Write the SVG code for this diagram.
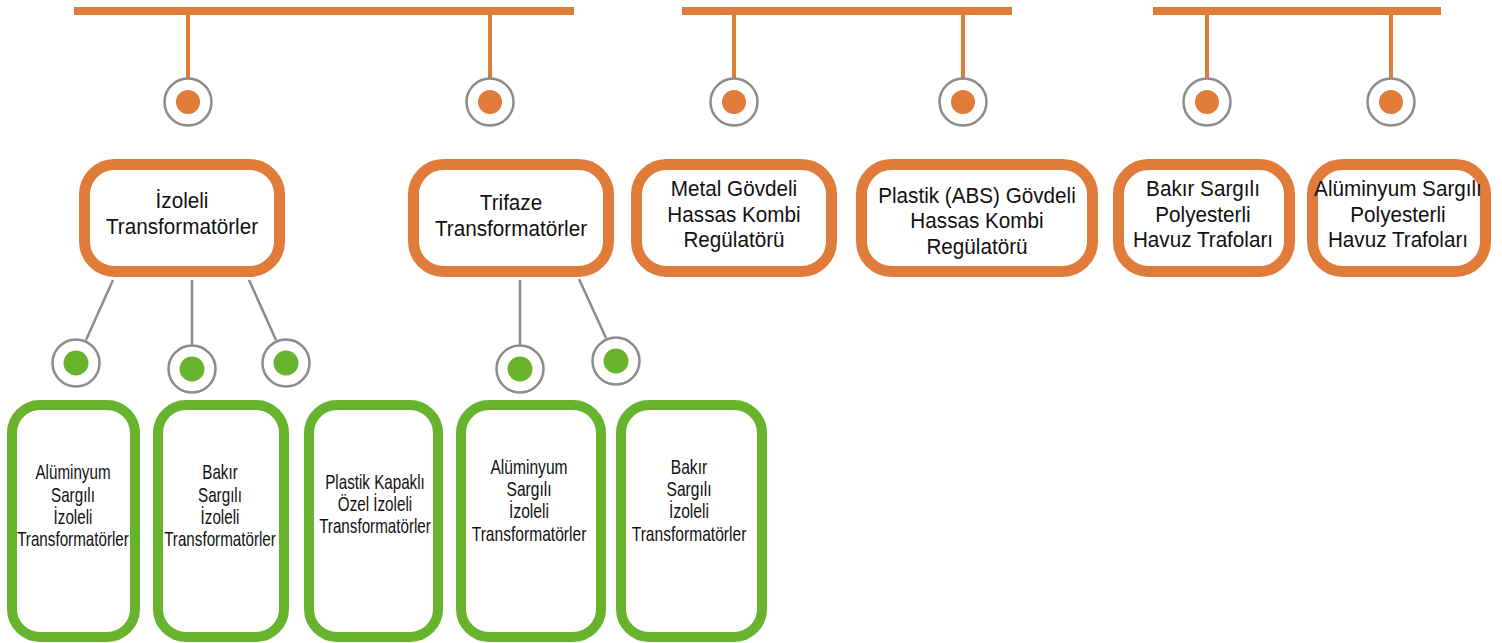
<svg xmlns="http://www.w3.org/2000/svg" width="1502" height="643" viewBox="0 0 1502 643">
<style>
.bar{fill:#E07B39}
.stub{stroke:#E07B39;stroke-width:4;fill:none}
.gline{stroke:#8C8C8C;stroke-width:2.5;fill:none}
.ring{fill:#fff;stroke:#8C8C8C;stroke-width:2.5}
.odot{fill:#E07B39}
.gdot{fill:#67B32E}
.onode{fill:#fff;stroke:#E07B39;stroke-width:11}
.gnode{fill:#fff;stroke:#67B32E;stroke-width:10}
.t1{font-family:"Liberation Sans",Arial,sans-serif;font-size:22px;fill:#111;text-anchor:middle}
.t2{font-family:"Liberation Sans",Arial,sans-serif;font-size:20px;fill:#111;text-anchor:middle}
</style>
<rect width="1502" height="643" fill="#fff"/>
<g id="connectors">
<rect class="bar" x="74" y="7" width="500" height="8"/>
<rect class="bar" x="682" y="7" width="330" height="8"/>
<rect class="bar" x="1153" y="7" width="288" height="8"/>
<line class="stub" x1="188" y1="15" x2="188" y2="79"/>
<line class="stub" x1="490" y1="15" x2="490" y2="79"/>
<line class="stub" x1="734" y1="15" x2="734" y2="79"/>
<line class="stub" x1="963" y1="15" x2="963" y2="79"/>
<line class="stub" x1="1207" y1="15" x2="1207" y2="79"/>
<line class="stub" x1="1391" y1="15" x2="1391" y2="79"/>
<line class="gline" x1="113" y1="280" x2="86" y2="340"/>
<line class="gline" x1="192" y1="280" x2="192" y2="345"/>
<line class="gline" x1="249" y1="280" x2="276" y2="340"/>
<line class="gline" x1="520" y1="280" x2="520" y2="345"/>
<line class="gline" x1="579" y1="279" x2="606" y2="338"/>
</g>
<g id="markers">
<g id="m1"><circle class="ring" cx="188" cy="102" r="23.5"/><circle class="odot" cx="188" cy="102" r="12"/></g>
<g id="m2"><circle class="ring" cx="490" cy="102" r="23.5"/><circle class="odot" cx="490" cy="102" r="12"/></g>
<g id="m3"><circle class="ring" cx="734" cy="102" r="23.5"/><circle class="odot" cx="734" cy="102" r="12"/></g>
<g id="m4"><circle class="ring" cx="963" cy="102" r="23.5"/><circle class="odot" cx="963" cy="102" r="12"/></g>
<g id="m5"><circle class="ring" cx="1207" cy="102" r="23.5"/><circle class="odot" cx="1207" cy="102" r="12"/></g>
<g id="m6"><circle class="ring" cx="1391" cy="102" r="23.5"/><circle class="odot" cx="1391" cy="102" r="12"/></g>
<g id="m7"><circle class="ring" cx="76" cy="363" r="23.5"/><circle class="gdot" cx="76" cy="363" r="12.5"/></g>
<g id="m8"><circle class="ring" cx="192" cy="369" r="23.5"/><circle class="gdot" cx="192" cy="369" r="12.5"/></g>
<g id="m9"><circle class="ring" cx="286" cy="363" r="23.5"/><circle class="gdot" cx="286" cy="363" r="12.5"/></g>
<g id="m10"><circle class="ring" cx="520" cy="369" r="23.5"/><circle class="gdot" cx="520" cy="369" r="12.5"/></g>
<g id="m11"><circle class="ring" cx="616" cy="361" r="23.5"/><circle class="gdot" cx="616" cy="361" r="12.5"/></g>
</g>
<g id="izoleli">
<rect class="onode" x="84.5" y="164.5" width="195" height="107" rx="30"/>
<text class="t1" transform="translate(182 0) scale(0.94 1)"><tspan x="0" y="208">İzoleli</tspan><tspan x="0" y="234">Transformatörler</tspan></text>
</g>
<g id="trifaze">
<rect class="onode" x="413.5" y="164.5" width="195" height="107" rx="30"/>
<text class="t1" transform="translate(511 0) scale(0.94 1)"><tspan x="0" y="210">Trifaze</tspan><tspan x="0" y="236">Transformatörler</tspan></text>
</g>
<g id="metal">
<rect class="onode" x="636.5" y="164.5" width="195" height="107" rx="30"/>
<text class="t1" transform="translate(734 0) scale(0.94 1)"><tspan x="0" y="196">Metal Gövdeli</tspan><tspan x="0" y="222">Hassas Kombi</tspan><tspan x="0" y="247">Regülatörü</tspan></text>
</g>
<g id="plastik-abs">
<rect class="onode" x="861.5" y="164.5" width="231" height="107" rx="30"/>
<text class="t1" transform="translate(977 0) scale(0.94 1)"><tspan x="0" y="203">Plastik (ABS) Gövdeli</tspan><tspan x="0" y="228">Hassas Kombi</tspan><tspan x="0" y="254">Regülatörü</tspan></text>
</g>
<g id="bakir-havuz">
<rect class="onode" x="1118.5" y="164.5" width="171" height="107" rx="30"/>
<text class="t1" transform="translate(1203 0) scale(0.94 1)"><tspan x="0" y="196">Bakır Sargılı</tspan><tspan x="0" y="222">Polyesterli</tspan><tspan x="0" y="247">Havuz Trafoları</tspan></text>
</g>
<g id="aluminyum-havuz">
<rect class="onode" x="1312.5" y="164.5" width="173" height="107" rx="30"/>
<text class="t1" transform="translate(1398 0) scale(0.94 1)"><tspan x="0" y="196">Alüminyum Sargılı</tspan><tspan x="0" y="222">Polyesterli</tspan><tspan x="0" y="247">Havuz Trafoları</tspan></text>
</g>
<g id="aluminyum-izoleli">
<rect class="gnode" x="12" y="405" width="123" height="232" rx="28"/>
<text class="t2" transform="translate(73 0) scale(0.76 1)"><tspan x="0" y="479">Alüminyum</tspan><tspan x="0" y="502">Sargılı</tspan><tspan x="0" y="524">İzoleli</tspan><tspan x="0" y="546">Transformatörler</tspan></text>
</g>
<g id="bakir-izoleli">
<rect class="gnode" x="158" y="405" width="126" height="232" rx="28"/>
<text class="t2" transform="translate(220 0) scale(0.76 1)"><tspan x="0" y="479">Bakır</tspan><tspan x="0" y="502">Sargılı</tspan><tspan x="0" y="524">İzoleli</tspan><tspan x="0" y="546">Transformatörler</tspan></text>
</g>
<g id="plastik-kapakli">
<rect class="gnode" x="309" y="405" width="129" height="232" rx="28"/>
<text class="t2" transform="translate(375 0) scale(0.76 1)"><tspan x="0" y="489">Plastik Kapaklı</tspan><tspan x="0" y="511">Özel İzoleli</tspan><tspan x="0" y="533">Transformatörler</tspan></text>
</g>
<g id="aluminyum-trifaze">
<rect class="gnode" x="461" y="405" width="140" height="232" rx="28"/>
<text class="t2" transform="translate(529 0) scale(0.78 1)"><tspan x="0" y="474">Alüminyum</tspan><tspan x="0" y="496">Sargılı</tspan><tspan x="0" y="518">İzoleli</tspan><tspan x="0" y="541">Transformatörler</tspan></text>
</g>
<g id="bakir-trifaze">
<rect class="gnode" x="621" y="405" width="141" height="232" rx="28"/>
<text class="t2" transform="translate(689 0) scale(0.78 1)"><tspan x="0" y="474">Bakır</tspan><tspan x="0" y="496">Sargılı</tspan><tspan x="0" y="518">İzoleli</tspan><tspan x="0" y="541">Transformatörler</tspan></text>
</g>
</svg>
